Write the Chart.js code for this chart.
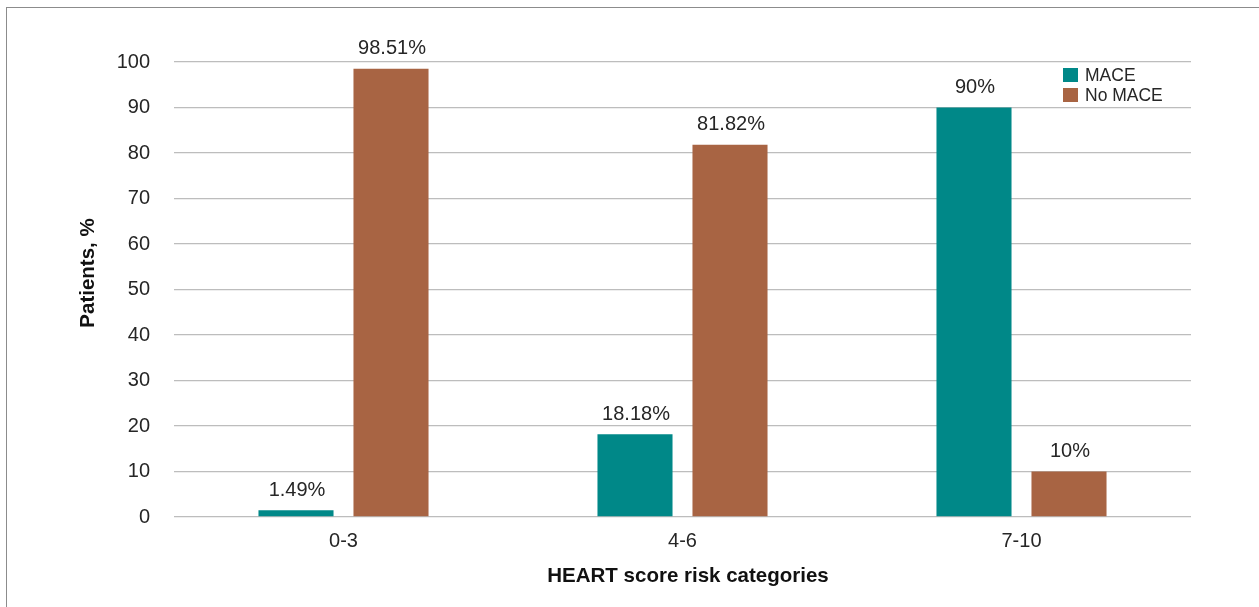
<!DOCTYPE html>
<html>
<head>
<meta charset="utf-8">
<script src="https://cdn.jsdelivr.net/npm/chart.js@4/dist/chart.umd.min.js"></script>
<style>
  html, body { margin: 0; padding: 0; background: #fff; overflow: hidden; }
  #wrap { position: relative; width: 1259px; height: 607px; }
  #frame { position: absolute; left: 6px; top: 7px; width: 1400px; height: 800px;
           border-left: 1.5px solid #8c8c8c; border-top: 1.5px solid #8c8c8c; }
  canvas { position: absolute; left: 0; top: 0; }
</style>
</head>
<body>
<div id="wrap">
  <div id="frame"></div>
  <canvas id="c" width="1259" height="607"></canvas>
</div>
<script>
// HEART score risk categories and share of patients (%) per outcome
const categories = ['0-3', '4-6', '7-10'];
const maceValues = [1.49, 18.18, 90];
const noMaceValues = [98.51, 81.82, 10];
const yTicks = [0, 10, 20, 30, 40, 50, 60, 70, 80, 90, 100];

const FONT = '"Liberation Sans", Arial, sans-serif';
const TEXT = '#262626';

function fmtPct(v) { return v + '%'; }

// Value labels above each bar
const valueLabels = {
  id: 'valueLabels',
  afterDatasetsDraw(chart) {
    const ctx = chart.ctx;
    ctx.save();
    ctx.font = '20px ' + FONT;
    ctx.fillStyle = TEXT;
    ctx.textAlign = 'center';
    ctx.textBaseline = 'middle';
    chart.data.datasets.forEach((ds, i) => {
      chart.getDatasetMeta(i).data.forEach((bar, j) => {
        ctx.fillText(fmtPct(ds.data[j]), bar.x + 1, bar.y - 20);
      });
    });
    ctx.restore();
  }
};

// Legend inside the plot's top-right corner, plus axis titles
const extras = {
  id: 'extras',
  afterDraw(chart) {
    const ctx = chart.ctx;
    const area = chart.chartArea;
    ctx.save();
    ctx.font = '17.5px ' + FONT;
    ctx.textBaseline = 'middle';
    ctx.textAlign = 'left';
    chart.data.datasets.forEach((ds, i) => {
      const y = area.top + 13 + i * 20;
      ctx.fillStyle = ds.backgroundColor;
      ctx.fillRect(area.right - 128, y - 7, 15, 14);
      ctx.fillStyle = TEXT;
      ctx.fillText(ds.label, area.right - 106, y + 1);
    });

    ctx.fillStyle = '#111';
    ctx.font = 'bold 20.5px ' + FONT;
    ctx.textAlign = 'center';
    ctx.fillText('HEART score risk categories', 688, 576);

    ctx.translate(88, 273);
    ctx.rotate(-Math.PI / 2);
    ctx.fillText('Patients, %', 0, 0);
    ctx.restore();
  }
};

new Chart(document.getElementById('c'), {
  type: 'bar',
  data: {
    labels: categories,
    datasets: [
      { label: 'MACE', data: maceValues, backgroundColor: '#008888',
        categoryPercentage: 0.5605, barPercentage: 0.79 },
      { label: 'No MACE', data: noMaceValues, backgroundColor: '#A86443',
        categoryPercentage: 0.5605, barPercentage: 0.79 }
    ]
  },
  options: {
    responsive: false,
    animation: false,
    devicePixelRatio: 1,
    layout: { padding: { left: 0, right: 68, top: 62, bottom: 0 } },
    plugins: { legend: { display: false }, tooltip: { enabled: false } },
    scales: {
      x: {
        grid: { display: false, drawTicks: false },
        border: { display: false },
        ticks: { font: { family: FONT, size: 20 }, color: TEXT, padding: 12 },
        afterFit(s) { s.height = 90; }
      },
      y: {
        min: 0, max: 100,
        afterBuildTicks(s) { s.ticks = yTicks.map(v => ({ value: v })); },
        grid: { color: '#bdbdbd', lineWidth: 1.3, drawTicks: false },
        border: { display: false },
        ticks: { font: { family: FONT, size: 20 }, color: TEXT, padding: 24 },
        afterFit(s) { s.width = 174; }
      }
    }
  },
  plugins: [valueLabels, extras]
});
</script>
</body>
</html>
